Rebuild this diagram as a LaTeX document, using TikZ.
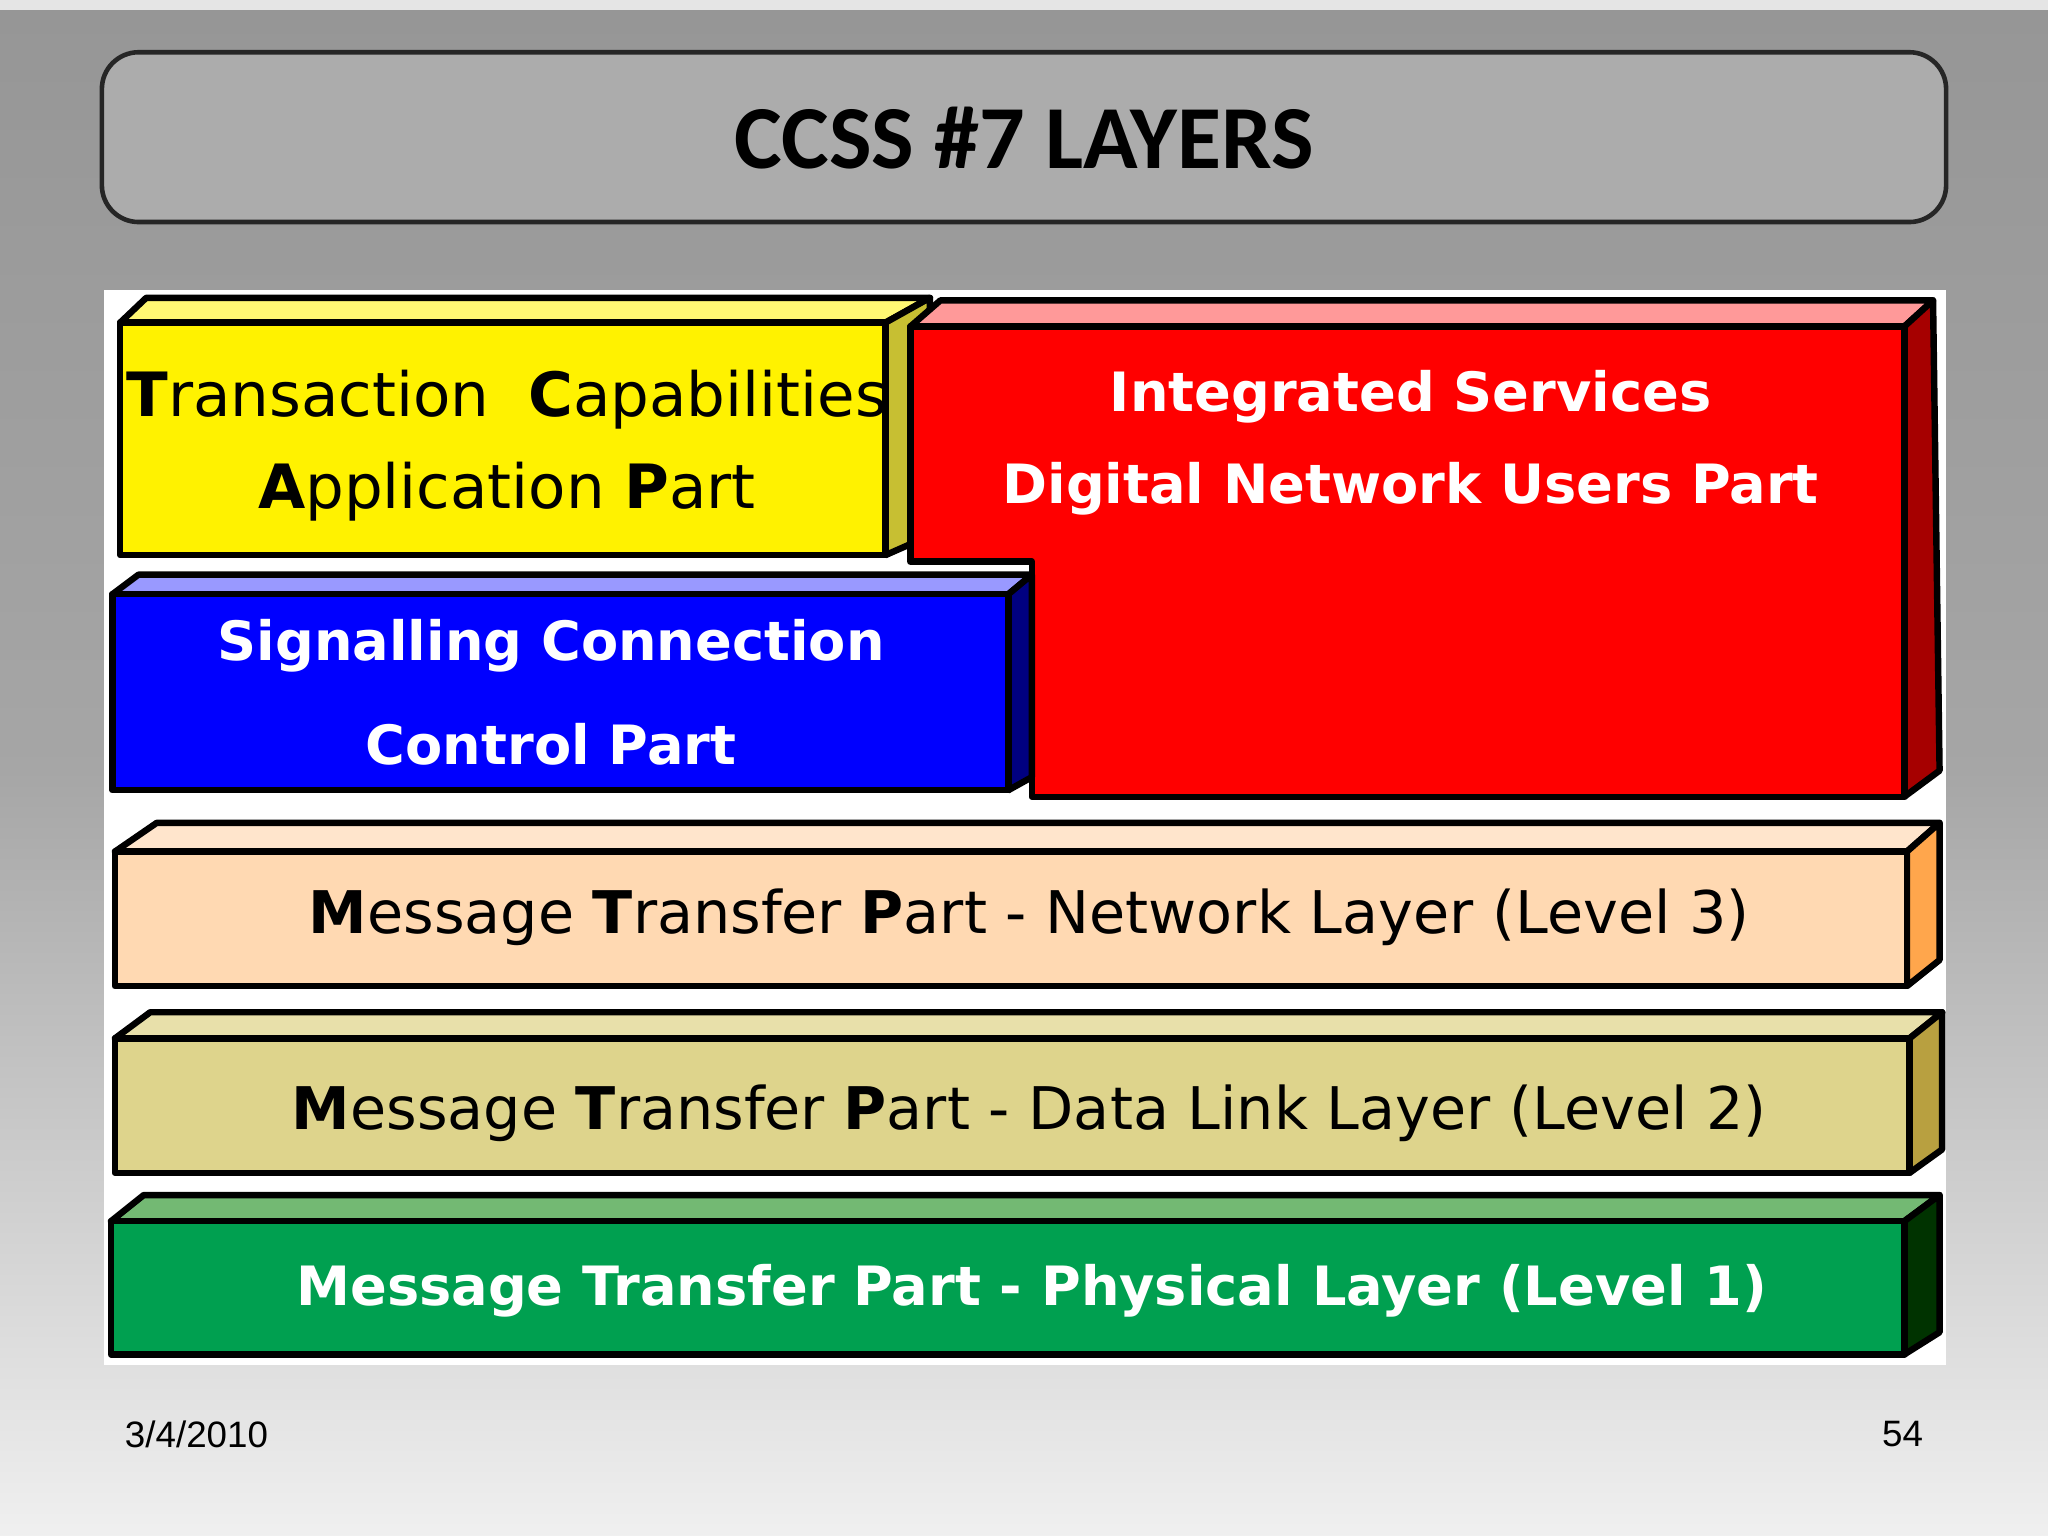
\documentclass[tikz,border=0pt]{standalone}
\usepackage{fontspec}
\setmainfont{DejaVu Sans}
\newfontfamily\titlefont{Carlito}
\newfontfamily\footfont{Liberation Sans}
\begin{document}
\begin{tikzpicture}[x=0.01cm,y=-0.01cm,
  edge/.style={draw=black,line width=1.4pt,line join=round},
  lbl/.style={font=\fontsize{12.8}{15}\selectfont,align=center,inner sep=0pt},
  wlbl/.style={lbl,text=white,font=\fontsize{11.8}{15}\selectfont\bfseries}]
\useasboundingbox (0,0) rectangle (1568,1176);
\shade[top color=gray!90!black!75, bottom color=gray!12, middle color=gray!70] (0,0) rectangle (1568,1176);
\fill[gray!20] (0,0) rectangle (1568,8);
% title
\draw[fill=gray!65,draw=black!85,line width=1pt,rounded corners=8pt] (78,40) rectangle (1490,170);
\node[font=\titlefont\bfseries\fontsize{19.6}{21}\selectfont] (title) at (784,106) {CCSS \#7 LAYERS};
% panel
\fill[white] (80,222) rectangle (1490,1045);
% yellow
\draw[edge,fill=yellow!55!white] (92,247) -- (112,228) -- (712,228) -- (678,247) -- cycle;
\draw[edge,fill=yellow!75!black] (678,247) -- (712,228) -- (712,410) -- (678,425) -- cycle;
\draw[edge,fill=yellow] (92,247) rectangle (678,425);
\node[lbl,font=\fontsize{13.3}{15}\selectfont] (tcap) at (388,341) {\textbf{T}ransaction\ \ \textbf{C}apabilities\\[5pt]\textbf{A}pplication \textbf{P}art};
% red
\draw[edge,fill=red!40!white] (697,250) -- (720,230) -- (1480,230) -- (1458,250) -- cycle;
\draw[edge,fill=red!65!black] (1458,250) -- (1480,230) -- (1485,590) -- (1458,610) -- cycle;
\draw[edge,fill=red] (697,250) -- (1458,250) -- (1458,610) -- (790,610) -- (790,430) -- (697,430) -- cycle;
\node[wlbl] (isup) at (1080,339) {Integrated Services\\[5pt]Digital Network Users Part};
% blue
\draw[edge,fill=blue!40!white] (86,455) -- (106,440) -- (790,440) -- (772,455) -- cycle;
\draw[edge,fill=blue!50!black] (772,455) -- (790,440) -- (790,595) -- (772,605) -- cycle;
\draw[edge,fill=blue] (86,455) rectangle (772,605);
\node[wlbl] (sccp) at (422,530) {Signalling Connection\\[7.5pt]Control Part};
% MTP3
\draw[edge,fill=orange!20!white] (88,652) -- (120,630) -- (1485,630) -- (1460,652) -- cycle;
\draw[edge,fill=orange!70!white] (1460,652) -- (1485,630) -- (1485,735) -- (1460,755) -- cycle;
\draw[edge,fill=orange!30!white] (88,652) rectangle (1460,755);
\node[lbl] (mtp3) at (788,702) {\textbf{M}essage \textbf{T}ransfer \textbf{P}art - Network Layer (Level 3)};
% MTP2
\draw[edge,fill={rgb,255:red,232;green,224;blue,170}] (88,795) -- (115,775) -- (1487,775) -- (1462,795) -- cycle;
\draw[edge,fill={rgb,255:red,184;green,160;blue,64}] (1462,795) -- (1487,775) -- (1487,880) -- (1462,898) -- cycle;
\draw[edge,fill={rgb,255:red,222;green,212;blue,140}] (88,795) rectangle (1462,898);
\node[lbl] (mtp2) at (788,852) {\textbf{M}essage \textbf{T}ransfer \textbf{P}art - Data Link Layer (Level 2)};
% MTP1
\draw[edge,fill=green!50!black!55!white] (85,935) -- (110,915) -- (1485,915) -- (1458,935) -- cycle;
\draw[edge,fill=green!20!black] (1458,935) -- (1485,915) -- (1485,1020) -- (1458,1037) -- cycle;
\draw[edge,fill={rgb,255:red,0;green,160;blue,80}] (85,935) rectangle (1458,1037);
\node[wlbl] (mtp1) at (790,988) {Message Transfer Part - Physical Layer (Level 1)};
% footer
\node[font=\footfont\fontsize{8}{10}\selectfont,anchor=west,inner sep=0pt] (date) at (95,1098) {3/4/2010};
\node[font=\footfont\fontsize{8}{10}\selectfont,anchor=east,inner sep=0pt] (page) at (1473,1098) {54};
\end{tikzpicture}
\end{document}
